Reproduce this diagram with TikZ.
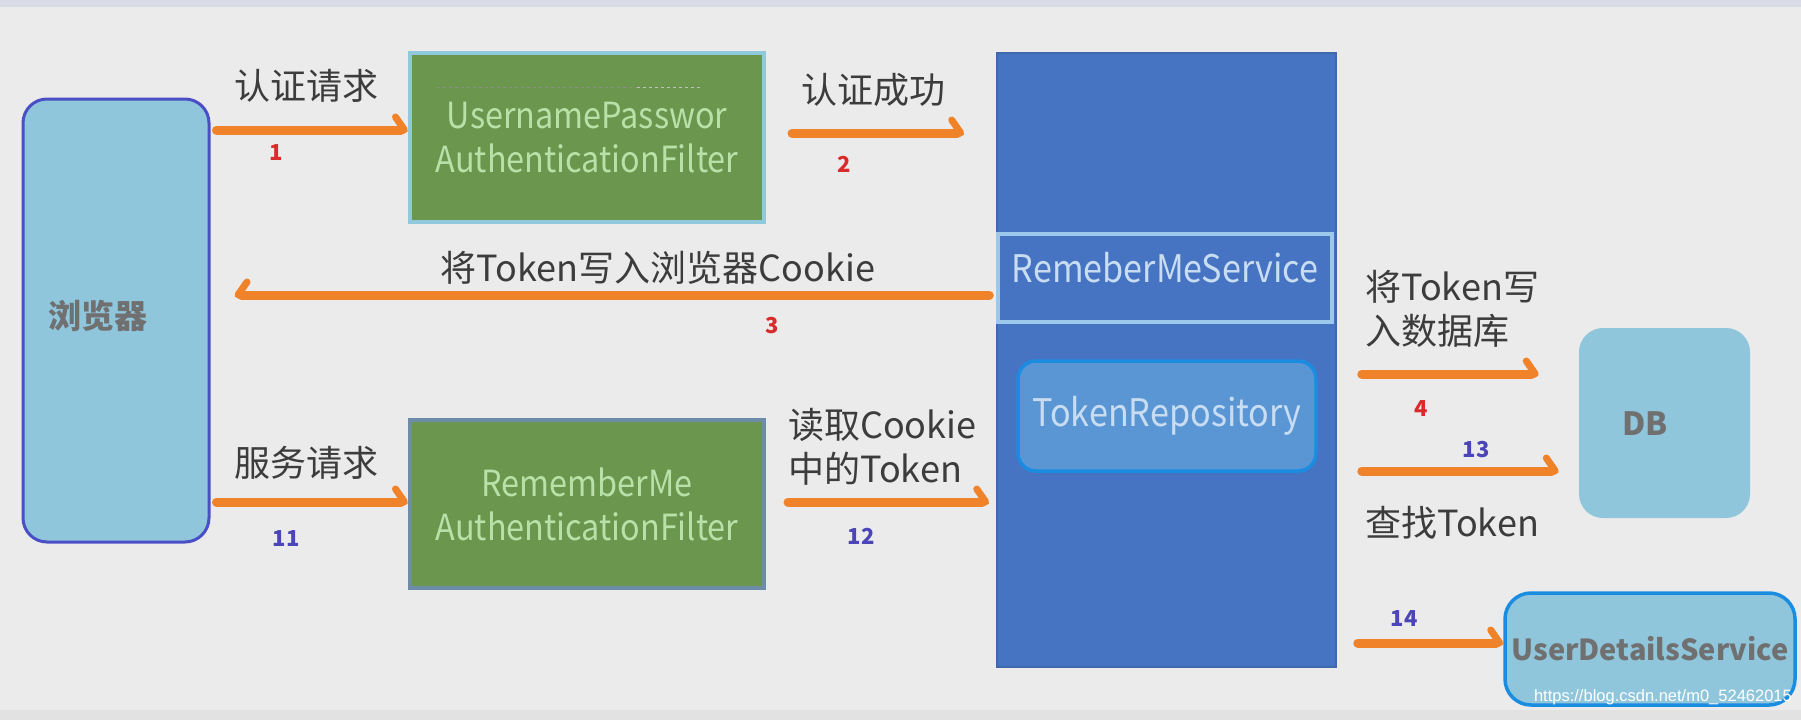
\documentclass[tikz,border=0pt]{standalone}
\usepackage{fontspec}
\setmainfont{Noto Sans CJK SC}
\newfontfamily\condfont[FakeStretch=0.9]{Noto Sans CJK SC}
\newfontfamily\wmfont{Liberation Sans}
\usetikzlibrary{arrows.meta}
\definecolor{bg}{HTML}{EBEBEB}
\definecolor{topstrip}{HTML}{D9DCE6}
\definecolor{botstrip}{HTML}{E2E2E2}
\definecolor{lblue}{HTML}{8FC6DC}
\definecolor{browserborder}{HTML}{4A4FC5}
\definecolor{greenfill}{HTML}{6A974D}
\definecolor{greenborderA}{HTML}{90C8DC}
\definecolor{greenborderB}{HTML}{6D8CA8}
\definecolor{greentext}{HTML}{B8E0A8}
\definecolor{bigblue}{HTML}{4674C2}
\definecolor{rmsborder}{HTML}{9CC8EC}
\definecolor{tokfill}{HTML}{5A96D4}
\definecolor{brightblue}{HTML}{1A8DE0}
\definecolor{bluetext}{HTML}{C8DCF2}
\definecolor{arrowc}{HTML}{F0832A}
\definecolor{labelc}{HTML}{3C3C3C}
\definecolor{grayc}{HTML}{707070}
\definecolor{numred}{HTML}{D92B2B}
\definecolor{numblue}{HTML}{4B45B8}
\tikzset{
  box/.style={draw, minimum width=#1, inner sep=0pt},
  arr/.style={line width=9pt, draw=arrowc, line cap=round,
    -{Straight Barb[left, length=9pt, width=26pt, line width=7pt, round]}},
  arrL/.style={line width=9pt, draw=arrowc, line cap=round,
    -{Straight Barb[right, length=9pt, width=26pt, line width=7pt, round]}},
  lbl/.style={text=labelc, font=\fontsize{36}{44}\selectfont, inner sep=0pt},
  lblL/.style={lbl, anchor=west, align=left},
  nred/.style={text=numred, font=\fontsize{22}{24}\selectfont\bfseries, inner sep=0pt},
  nblue/.style={text=numblue, font=\fontsize{22}{24}\selectfont\bfseries, inner sep=0pt},
  boxtext/.style={font=\condfont\fontsize{36}{44}\selectfont, align=center},
  bluebox text/.style={font=\condfont\fontsize{38}{44}\selectfont, align=center},
  graybold/.style={text=grayc, font=\fontsize{32}{36}\selectfont\bfseries, inner sep=0pt},
}
\begin{document}
\begin{tikzpicture}[x=1pt, y=-1pt]
\useasboundingbox (0,0) rectangle (1801,720);
\fill[bg] (0,0) rectangle (1801,720);
\fill[topstrip] (0,0) rectangle (1801,7);
\fill[botstrip] (0,710) rectangle (1801,720);

% browser
\node[box=186pt, minimum height=443pt, fill=lblue, draw=browserborder, line width=3pt, rounded corners=24pt] (browser) at (116,320.5) {};
\node[graybold, font=\fontsize{33}{36}\selectfont\bfseries] (browsertxt) at (98,316) {浏览器};

% green boxes
\node[box=354pt, minimum height=169pt, fill=greenfill, draw=greenborderA, line width=4pt, text=greentext, boxtext] (g1) at (587,137.5) {UsernamePasswor\\AuthenticationFilter};
\draw[black!45, dashed, line width=1pt] (g1.north west) ++(29,36) -- ++(200,0);
\draw[black!25, dashed, line width=1pt] (g1.north west) ++(229,36) -- ++(65,0);

\node[box=354pt, minimum height=168pt, fill=greenfill, draw=greenborderB, line width=4pt, text=greentext, boxtext] (g2) at (587,504) {RememberMe\\AuthenticationFilter};

% big blue column
\node[box=339pt, minimum height=614pt, fill=bigblue, draw=bigblue!90!black, line width=1.5pt] (big) at (1166.5,360) {};
\node[box=334pt, minimum height=88pt, fill=bigblue, draw=rmsborder, line width=3.5pt,
  label={[text=bluetext, bluebox text, yshift=10pt]center:RemeberMeService}] (rms) at (1165,278) {};
\node[box=298pt, minimum height=110pt, fill=tokfill, draw=brightblue, line width=3.5pt, rounded corners=18pt, text=bluetext, bluebox text] (tok) at (1167,416) {TokenRepository};

% right boxes
\node[box=171pt, minimum height=190pt, fill=lblue, draw=none, rounded corners=24pt] (db) at (1664.5,423) {};
\node[graybold] (dbtxt) at (1645,424) {DB};
\node[box=290pt, minimum height=112pt, fill=lblue, draw=brightblue, line width=3.5pt, rounded corners=26pt, graybold, font=\fontsize{29}{32}\selectfont\bfseries] (uds) at (1650,649) {UserDetailsService};

% arrows
\draw[arr] (browser.east |- 0,130) ++(6,0) -- (g1.west |- 0,130);
\draw[arr] (g1.east |- 0,133) ++(26,0) -- ([xshift=-32pt]big.west |- 0,133);
\draw[arrL] ([xshift=-7pt]rms.west |- 0,295) -- ([xshift=24pt]browser.east |- 0,295);
\draw[arr] (browser.east |- 0,502) ++(6,0) -- (g2.west |- 0,502);
\draw[arr] (g2.east |- 0,502) ++(22,0) -- ([xshift=-7pt]big.west |- 0,502);
\draw[arr] (big.east |- 0,374) ++(25,0) -- ([xshift=-40pt]db.west |- 0,374);
\draw[arr] (big.east |- 0,471) ++(25,0) -- ([xshift=-20pt]db.west |- 0,471);
\draw[arr] (big.east |- 0,643) ++(21,0) -- (uds.west |- 0,643);

% labels
\node[lbl] (l1) at (306,86) {认证请求};
\node[lbl] (l2) at (873,90) {认证成功};
\node[lbl] (l3) at (658,268) {将Token写入浏览器Cookie};
\node[lbl] (l11) at (306,463) {服务请求};
\node[lblL] (l12) at (788,447) {读取Cookie\\中的Token};
\node[lblL] (l4) at (1365,309) {将Token写\\入数据库};
\node[lblL] (l13) at (1365,523) {查找Token};

% numbers
\node[nred] (n1) at (276,153) {1};
\node[nred] (n2) at (844,164) {2};
\node[nred] (n3) at (772,326) {3};
\node[nred] (n4) at (1421,409) {4};
\node[nblue] (n11) at (286,539) {11};
\node[nblue] (n12) at (861,536) {12};
\node[nblue] (n13) at (1476,450) {13};
\node[nblue] (n14) at (1404,619) {14};

% watermark
\node[text=white, font=\wmfont\fontsize{16.5}{20}\selectfont, anchor=east, inner sep=0pt] (wm) at (1792,697) {https://blog.csdn.net/m0\_52462015};
\end{tikzpicture}
\end{document}
